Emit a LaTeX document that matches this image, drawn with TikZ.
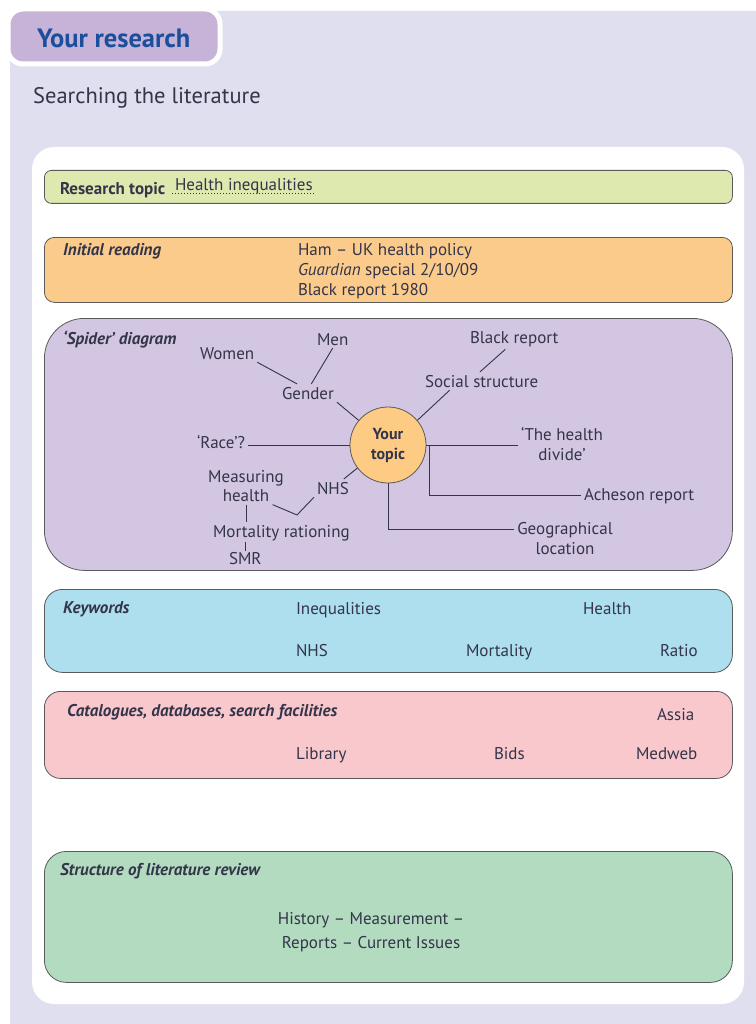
\documentclass[tikz,border=0pt]{standalone}
\usepackage{fontspec}
\setmainfont{PT Sans}
\usetikzlibrary{positioning,calc}
\definecolor{lavbg}{HTML}{E0DFF0}
\definecolor{tabpurple}{HTML}{C8B3D8}
\definecolor{titleblue}{HTML}{1B4F9C}
\definecolor{txtdark}{HTML}{34344A}
\definecolor{boxline}{HTML}{5A5A5A}
\definecolor{topicgreen}{HTML}{DDE9AF}
\definecolor{readorange}{HTML}{FBCB8B}
\definecolor{spiderlilac}{HTML}{D3C6E2}
\definecolor{topicorange}{HTML}{FDCB84}
\definecolor{keyblue}{HTML}{ADDFEE}
\definecolor{catpink}{HTML}{F9C8CD}
\definecolor{structgreen}{HTML}{B2DBBF}
\tikzset{
    lbl/.style={font=\fontsize{17}{20}\selectfont,text=txtdark,inner sep=1pt,outer sep=2pt},
    boxhead/.style={font=\fontsize{17}{20}\selectfont\bfseries\itshape,text=txtdark,inner sep=0pt,anchor=base west},
    infobox/.style={draw=boxline,line width=0.8pt,anchor=north west,inner sep=0pt,minimum width=688pt},
    spoke/.style={draw=txtdark,line width=0.9pt},
}
\begin{document}
\begin{tikzpicture}[x=1pt,y=-1pt]
\useasboundingbox (0,0) rectangle (755,1024);
% background and tab
\fill[lavbg,rounded corners=12pt] (10,11) rectangle (775,1045);
\path[fill=tabpurple,draw=white,line width=5pt,rounded corners=15pt] (8,9) rectangle (220,64);
\node[font=\fontsize{26.5}{30}\selectfont\bfseries,text=titleblue,inner sep=0pt,anchor=base west] (title) at (37,48) {Your research};
\node[font=\fontsize{22.5}{26}\selectfont,text=txtdark,inner sep=0pt,anchor=base west] (subtitle) at (33,104) {Searching the literature};
\fill[white,rounded corners=22pt] (32,147) rectangle (744,1004);

% research topic
\node[infobox,fill=topicgreen,rounded corners=7pt,minimum height=33pt] (topicbox) at (44,170) {};
\node[lbl,font=\fontsize{17}{20}\selectfont\bfseries,anchor=base west] (rtopic) at (57,195) {Research topic};
\node[lbl,anchor=base west] (hineq) at (172,191) {Health inequalities};
\draw[txtdark,dotted,line width=1pt] ([yshift=-3pt]hineq.base west) -- ([yshift=-3pt]hineq.base east);

% initial reading
\node[infobox,fill=readorange,rounded corners=10pt,minimum height=65pt] (readbox) at (44,237) {};
\node[boxhead] (readhead) at (63,255) {Initial reading};
\node[lbl,align=left,anchor=base west] (reads) at (295,295) {Ham – UK health policy\\\textit{Guardian} special 2/10/09\\Black report 1980};

% spider diagram
\node[infobox,fill=spiderlilac,rounded corners=40pt,minimum height=252pt] (spiderbox) at (44,318) {};
\node[boxhead] (spiderhead) at (63,344) {‘Spider’ diagram};
\node[circle,draw=boxline,line width=0.8pt,fill=topicorange,minimum size=76pt,inner sep=0pt,
      font=\fontsize{16}{20}\selectfont\bfseries,text=txtdark,align=center] (topic) at (388,445) {Your\\topic};
\node[lbl,anchor=base west] (women) at (197,359) {Women};
\node[lbl,anchor=base west] (men) at (314,345) {Men};
\node[lbl,anchor=base west] (gender) at (279,399) {Gender};
\node[lbl,anchor=base west] (black) at (467,343) {Black report};
\node[lbl,anchor=base west] (social) at (422,387) {Social structure};
\node[lbl,anchor=base west] (race) at (194,448) {‘Race’?};
\node[lbl,align=center] (divide) at (562,444) {‘The health\\divide’};
\node[lbl,anchor=base west] (acheson) at (581,500) {Acheson report};
\node[lbl,align=center] (geo) at (565,539) {Geographical\\location};
\node[lbl,align=center,font=\fontsize{17}{19}\selectfont] (meas) at (246,486) {Measuring\\health};
\node[lbl,anchor=base west] (nhs) at (314,494) {NHS};
\node[lbl,anchor=base west] (mort) at (210,537) {Mortality rationing};
\node[lbl,anchor=base west] (smr) at (226,564) {SMR};
\coordinate (fork) at (297,515);

\draw[spoke] (women.south east) -- (gender.140);
\draw[spoke] (men.south) -- (gender.70);
\draw[spoke] (gender.south east) -- (topic.140);
\draw[spoke] (black.-130) -- (social.100);
\draw[spoke] (social.-164) -- (topic.40);
\draw[spoke] (race.east |- topic.west) -- (topic.west);
\draw[spoke] (topic.east) -- (topic.east -| divide.west);
\draw[spoke] ([xshift=3pt]topic.east) |- (acheson.west);
\draw[spoke] (topic.south) |- ([yshift=10pt]geo.west);
\draw[spoke] (nhs.40) -- (topic.-143);
\draw[spoke] (meas.-35) -- (fork) -- (nhs.south west);
\draw[spoke] (meas.south) -- (meas.south |- mort.north);
\draw[spoke] ([yshift=2pt]mort.south -| smr.north) -- ([yshift=-2pt]smr.north);

% keywords
\node[infobox,fill=keyblue,rounded corners=18pt,minimum height=83pt] (keybox) at (44,589) {};
\node[boxhead] (keyhead) at (63,613) {Keywords};
\node[lbl,anchor=base west] (kineq) at (293,614) {Inequalities};
\node[lbl,anchor=base west] (khealth) at (580,614) {Health};
\node[lbl,anchor=base west] (knhs) at (293,656) {NHS};
\node[lbl,anchor=base west] (kmort) at (463,656) {Mortality};
\node[lbl,anchor=base west] (kratio) at (657,656) {Ratio};

% catalogues
\node[infobox,fill=catpink,rounded corners=16pt,minimum height=87pt] (catbox) at (44,691) {};
\node[boxhead] (cathead) at (67,716) {Catalogues, databases, search facilities};
\node[lbl,anchor=base west] (cassia) at (654,720) {Assia};
\node[lbl,anchor=base west] (clib) at (293,759) {Library};
\node[lbl,anchor=base west] (cbids) at (491,759) {Bids};
\node[lbl,anchor=base west] (cmed) at (633,759) {Medweb};

% structure of review
\node[infobox,fill=structgreen,rounded corners=22pt,minimum height=131pt] (structbox) at (44,851) {};
\node[boxhead] (structhead) at (60,875) {Structure of literature review};
\node[lbl,align=center,font=\fontsize{17}{24}\selectfont] (structtxt) at (371,932) {History – Measurement –\\Reports – Current Issues};
\end{tikzpicture}
\end{document}
